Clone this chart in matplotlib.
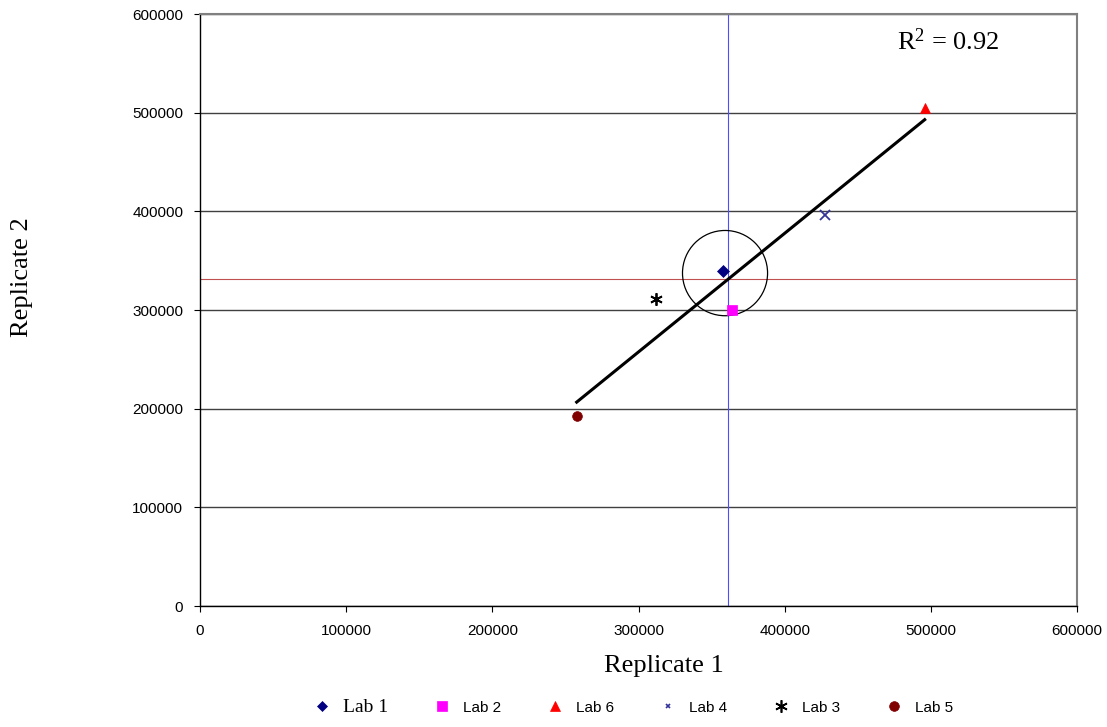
import numpy as np
import matplotlib.pyplot as plt
from matplotlib.patches import Ellipse
from matplotlib.lines import Line2D

# ── data ──────────────────────────────────────────────────────────────────────
labs = ["Lab 1", "Lab 2", "Lab 6", "Lab 4", "Lab 3", "Lab 5"]
rep1 = [358000, 364200, 495800, 427800, 312000, 257700]
rep2 = [339800, 300000, 505000, 396000, 311100, 192600]

ref_x = 361000          # vertical reference line (blue)
ref_y = 331000          # horizontal reference line (red)
circle_center = (359200, 337400)
circle_size = (58200, 86400)   # width, height in data units
r2_text = r"R$^2$ = 0.92"

# ── styles ────────────────────────────────────────────────────────────────────
markers = ["D", "s", "^", "x", (6, 2, 0), "o"]
colors = ["#000080", "#ff00ff", "#ff0000", "#333399", "#000000", "#800000"]
sizes = [6, 7, 7.5, 6.5, 9, 7]
leg_sizes = [5, 7, 7, 3.5, 9, 7]

SANS = "Liberation Sans"
SERIF = "Liberation Serif"
plt.rcParams["mathtext.fontset"] = "custom"
plt.rcParams["mathtext.rm"] = SERIF
plt.rcParams["mathtext.it"] = SERIF + ":italic"

fig = plt.figure(figsize=(11.07, 7.27), dpi=100)
ax = fig.add_axes([200 / 1107, 1 - 606 / 727, 877 / 1107, 592 / 727])

ax.set_xlim(0, 600000)
ax.set_ylim(0, 600000)
ticks = np.arange(0, 600001, 100000)
ax.set_xticks(ticks)
ax.set_yticks(ticks)
ax.set_xticklabels([str(v) for v in ticks], family=SANS, fontsize=11)
ax.set_yticklabels([str(v) for v in ticks], family=SANS, fontsize=11)
ax.tick_params(axis="both", direction="out", length=4, width=0.8, color="black")
ax.tick_params(axis="x", pad=9)
ax.tick_params(axis="y", pad=8)

# horizontal gridlines
ax.yaxis.grid(True, color="#404040", lw=1.0)
ax.set_axisbelow(True)

for s in ["left", "bottom"]:
    ax.spines[s].set_color("black")
    ax.spines[s].set_linewidth(1.0)
ax.spines["top"].set_color("#808080")
ax.spines["top"].set_linewidth(1.5)
ax.spines["right"].set_color("#808080")
ax.spines["right"].set_linewidth(1.5)

# reference lines
ax.axvline(ref_x, color="#4d4dff", lw=0.8, zorder=2)
ax.axhline(ref_y, color="#c05050", lw=0.8, zorder=2)

# regression line
x = np.array(rep1, dtype=float)
y = np.array(rep2, dtype=float)
slope, intercept = np.polyfit(x, y, 1)
xs = np.array([x.min(), x.max()])
ax.plot(xs, slope * xs + intercept, color="black", lw=2.2, zorder=3)

# circle
ax.add_patch(Ellipse(circle_center, circle_size[0], circle_size[1],
                     fill=False, edgecolor="black", lw=0.9, zorder=3))

# points
for lab, xv, yv, m, c, s in zip(labs, rep1, rep2, markers, colors, sizes):
    ax.plot([xv], [yv], linestyle="none", marker=m, color=c, markersize=s,
            markeredgewidth=1.3 if m in ("x", (6, 2, 0)) else 0.5, zorder=4)

ax.text(0.853, 0.953, r2_text, transform=ax.transAxes, family=SERIF,
        fontsize=19, ha="center", va="center")

fig.text(664 / 1107, 1 - 666 / 727, "Replicate 1", family=SERIF, fontsize=19,
         ha="center", va="center")
fig.text(22 / 1107, 1 - 277 / 727, "Replicate 2", family=SERIF, fontsize=19,
         ha="center", va="center", rotation=90)

# legend
handles = [Line2D([], [], linestyle="none", marker=m, color=c, markersize=s,
                  markeredgewidth=1.2 if m in ("x", (6, 2, 0)) else 0.5)
           for m, c, s in zip(markers, colors, leg_sizes)]
leg = fig.legend(handles, labs, ncol=6, loc="center", bbox_to_anchor=(634 / 1107, 1 - 707 / 727),
                 frameon=False, handlelength=0.9, handletextpad=0.9, columnspacing=3.1,
                 prop={"family": SANS, "size": 11})
texts = leg.get_texts()
texts[0].set_fontfamily(SERIF)
texts[0].set_fontsize(14)

fig.savefig("out.png", dpi=100)
